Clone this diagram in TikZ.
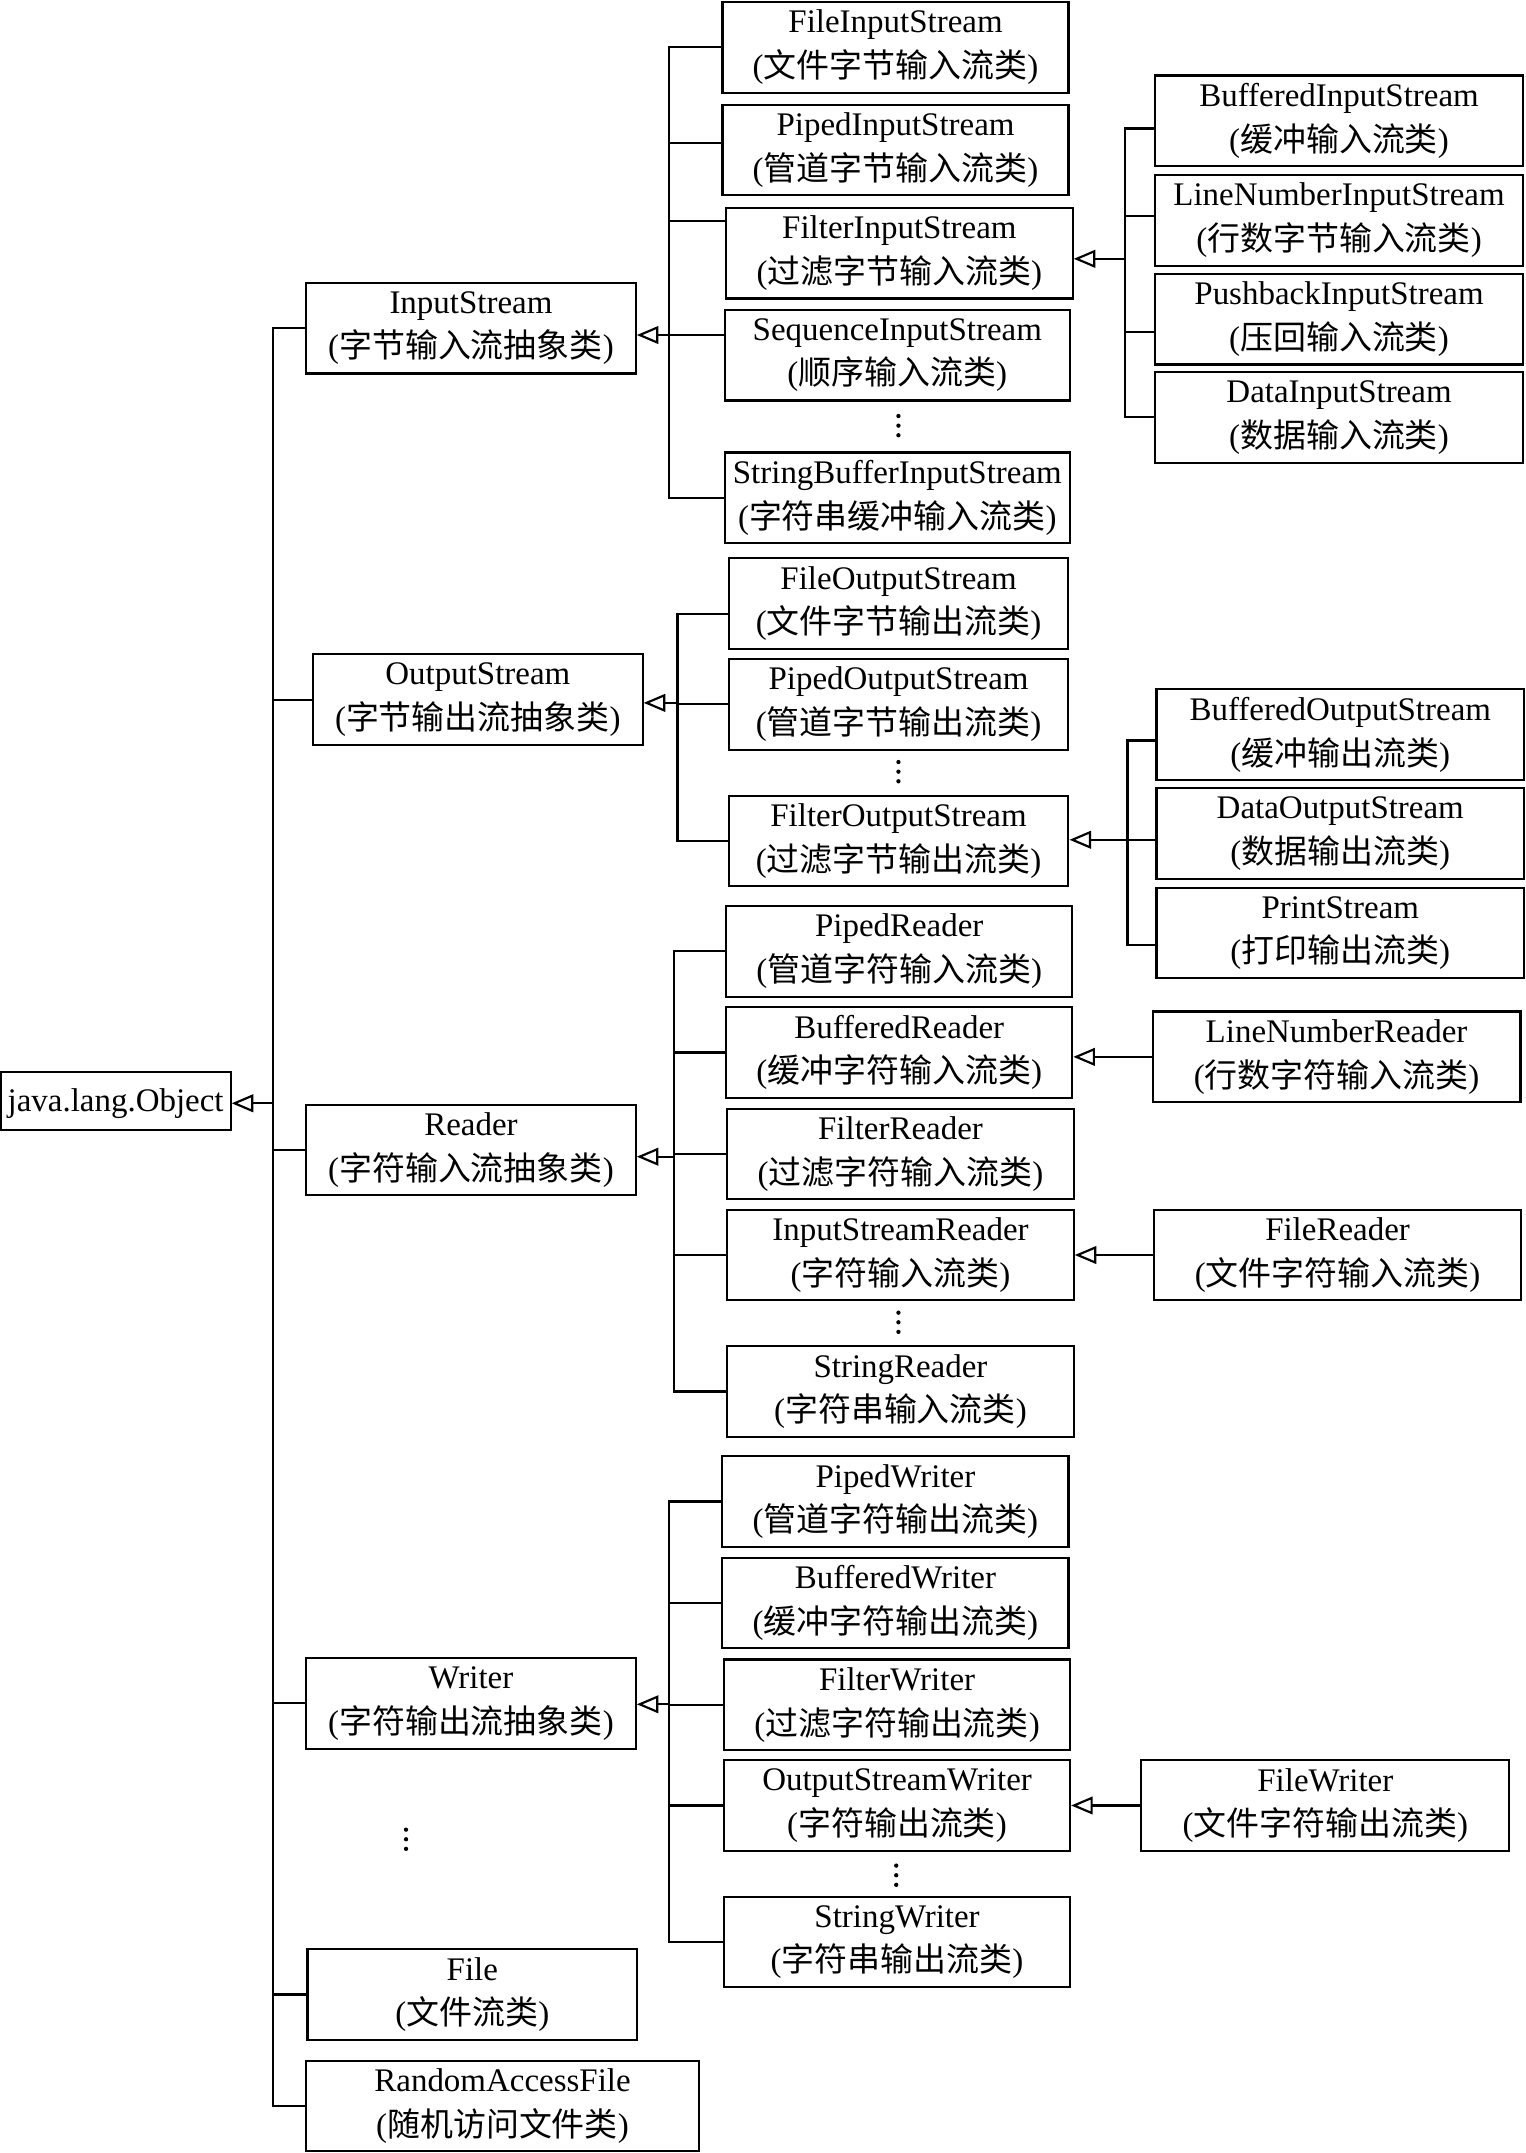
\documentclass[tikz,border=0pt]{standalone}
\usepackage{fontspec}
\setmainfont{Liberation Serif}
\newfontfamily\cjk{Noto Sans CJK SC}
\usetikzlibrary{arrows.meta}
\newcommand\zh[1]{{\cjk #1}}
\begin{document}
\begin{tikzpicture}[x=0.7pt, y=-0.7pt,
  box/.style={draw, line width=1.1pt, align=center, inner sep=0pt,
    minimum height=66*0.7pt, font=\fontsize{16.8}{22.8}\selectfont,
    execute at begin node={\rule{0pt}{14.5pt}}},
  bw/.style={minimum width=#1*0.7pt},
  conn/.style={line width=1.1pt},
  inh/.style={line width=1.1pt, -{Triangle[open,length=11pt,width=9pt]}},
  dot/.style={fill=black}]
\useasboundingbox (0,0) rectangle (1111,1568);

% root
\node[box, bw=167.5, minimum height=42.2*0.7pt, execute at begin node={}] (Obj) at (84.2,801.6) {java.lang.Object};

% level 1
\node[box, bw=240] (IS)  at (343,239)    {InputStream\\(\zh{字节输入流抽象类})};
\node[box, bw=240] (OS)  at (348,509.5)  {OutputStream\\(\zh{字节输出流抽象类})};
\node[box, bw=240] (RD)  at (343,837.6)  {Reader\\(\zh{字符输入流抽象类})};
\node[box, bw=240] (WR)  at (343,1240.5) {Writer\\(\zh{字符输出流抽象类})};
\node[box, bw=240] (FL)  at (344,1452.6) {File\\(\zh{文件流类})};
\node[box, bw=286] (RAF) at (366,1533.8) {RandomAccessFile\\(\zh{随机访问文件类})};

% InputStream children
\node[box, bw=252]   (FIS)  at (652.2,34.5)  {FileInputStream\\(\zh{文件字节输入流类})};
\node[box, bw=252]   (PIS)  at (652.2,109.3) {PipedInputStream\\(\zh{管道字节输入流类})};
\node[box, bw=252.4] (FiIS) at (655,184.4)   {FilterInputStream\\(\zh{过滤字节输入流类})};
\node[box, bw=251.6] (SIS)  at (653.5,258.7) {SequenceInputStream\\(\zh{顺序输入流类})};
\node[box, bw=251.6] (SBIS) at (653.5,362.5) {StringBufferInputStream\\(\zh{字符串缓冲输入流类})};

% FilterInputStream children
\node[box, bw=267.5] (BIS)  at (975.2,88)    {BufferedInputStream\\(\zh{缓冲输入流类})};
\node[box, bw=267.5] (LNIS) at (975.2,160.5) {LineNumberInputStream\\(\zh{行数字节输入流类})};
\node[box, bw=267.5] (PbIS) at (975.2,232.5) {PushbackInputStream\\(\zh{压回输入流类})};
\node[box, bw=267.5] (DIS)  at (975.2,304)   {DataInputStream\\(\zh{数据输入流类})};

% OutputStream children
\node[box, bw=247.4] (FOS)  at (654.4,439.6) {FileOutputStream\\(\zh{文件字节输出流类})};
\node[box, bw=247.4] (POS)  at (654.4,513)   {PipedOutputStream\\(\zh{管道字节输出流类})};
\node[box, bw=247.4] (FiOS) at (654.4,612.5) {FilterOutputStream\\(\zh{过滤字节输出流类})};

% FilterOutputStream children
\node[box, bw=267.8] (BOS) at (976.1,535)   {BufferedOutputStream\\(\zh{缓冲输出流类})};
\node[box, bw=267.8] (DOS) at (976.1,607)   {DataOutputStream\\(\zh{数据输出流类})};
\node[box, bw=267.8] (PS)  at (976.1,679.5) {PrintStream\\(\zh{打印输出流类})};

% Reader children
\node[box, bw=252]   (PR)  at (654.9,692.8)  {PipedReader\\(\zh{管道字符输入流类})};
\node[box, bw=252]   (BR)  at (654.9,766.5)  {BufferedReader\\(\zh{缓冲字符输入流类})};
\node[box, bw=252.3] (FR)  at (655.8,840.5)  {FilterReader\\(\zh{过滤字符输入流类})};
\node[box, bw=252.3] (ISR) at (655.8,914)    {InputStreamReader\\(\zh{字符输入流类})};
\node[box, bw=252.3] (SR)  at (655.8,1013.4) {StringReader\\(\zh{字符串输入流类})};
\node[box, bw=267.8] (LNR) at (973.4,769.7)  {LineNumberReader\\(\zh{行数字符输入流类})};
\node[box, bw=267.8] (FRd) at (974.1,914)    {FileReader\\(\zh{文件字符输入流类})};

% Writer children
\node[box, bw=252.2] (PW)  at (652.1,1093.5) {PipedWriter\\(\zh{管道字符输出流类})};
\node[box, bw=252.2] (BW)  at (652.1,1167.4) {BufferedWriter\\(\zh{缓冲字符输出流类})};
\node[box, bw=252]   (FW)  at (653.3,1241.6) {FilterWriter\\(\zh{过滤字符输出流类})};
\node[box, bw=252]   (OSW) at (653.3,1314.9) {OutputStreamWriter\\(\zh{字符输出流类})};
\node[box, bw=252]   (SW)  at (653.3,1414.3) {StringWriter\\(\zh{字符串输出流类})};
\node[box, bw=268.1] (FWr) at (965.2,1314.9) {FileWriter\\(\zh{文件字符输出流类})};

% vertical ellipses
\foreach \cx/\cy in {654.3/310, 654.3/562, 654.3/963, 652.7/1365.7, 295.7/1339.5}
  \foreach \d in {-7,0,7}
    \fill[dot] (\cx,{\cy+\d}) circle (1.1pt);

% Object tree
\coordinate (bObj) at (199,803.5);
\draw[inh] (bObj) -- (bObj -| Obj.east);
\foreach \n in {IS,OS,RD,WR,FL,RAF} \draw[conn] (\n.west) -| (bObj);

% InputStream tree
\coordinate (bIS) at (487,244);
\draw[inh] (bIS) -- (bIS -| IS.east);
\draw[conn] (FIS.west) -| (bIS);
\draw[conn] ([yshift=3.7pt]PIS.west) -| (bIS);
\draw[conn] ([yshift=16.4pt]FiIS.west) -| (bIS);
\draw[conn] ([yshift=10.3pt]SIS.west) -| (bIS);
\draw[conn] (SBIS.west) -| (bIS);

% FilterInputStream tree
\coordinate (bFiIS) at (819.6,188.5);
\draw[inh] (bFiIS) -- (bFiIS -| FiIS.east);
\draw[conn] ([yshift=-3.9pt]BIS.west) -| (bFiIS);
\draw[conn] ([yshift=2.2pt]LNIS.west) -| (bFiIS);
\draw[conn] ([yshift=-6.5pt]PbIS.west) -| (bFiIS);
\draw[conn] (DIS.west) -| (bFiIS);

% OutputStream tree
\coordinate (bOS) at (493.4,511.9);
\draw[inh] (bOS) -- (bOS -| OS.east);
\draw[conn] ([yshift=-5.3pt]FOS.west) -| (bOS);
\draw[conn] (POS.west) -| (bOS);
\draw[conn] (FiOS.west) -| (bOS);

% FilterOutputStream tree
\coordinate (bFiOS) at (821.1,611.6);
\draw[inh] (bFiOS) -- (bFiOS -| FiOS.east);
\draw[conn] ([yshift=-3pt]BOS.west) -| (bFiOS);
\draw[conn] ([yshift=-3.2pt]DOS.west) -| (bFiOS);
\draw[conn] ([yshift=-6.2pt]PS.west) -| (bFiOS);

% Reader tree
\coordinate (bRD) at (490.6,842.4);
\draw[inh] (bRD) -- (bRD -| RD.east);
\foreach \n in {PR,BR,FR,ISR,SR} \draw[conn] (\n.west) -| (bRD);
\draw[inh] (LNR.west) -- (LNR.west -| BR.east);
\draw[inh] (FRd.west) -- (FRd.west -| ISR.east);

% Writer tree
\coordinate (bWR) at (487.4,1241.2);
\draw[inh] (bWR) -- (bWR -| WR.east);
\foreach \n in {PW,BW,FW,OSW,SW} \draw[conn] (\n.west) -| (bWR);
\draw[inh] (FWr.west) -- (FWr.west -| OSW.east);
\end{tikzpicture}
\end{document}
